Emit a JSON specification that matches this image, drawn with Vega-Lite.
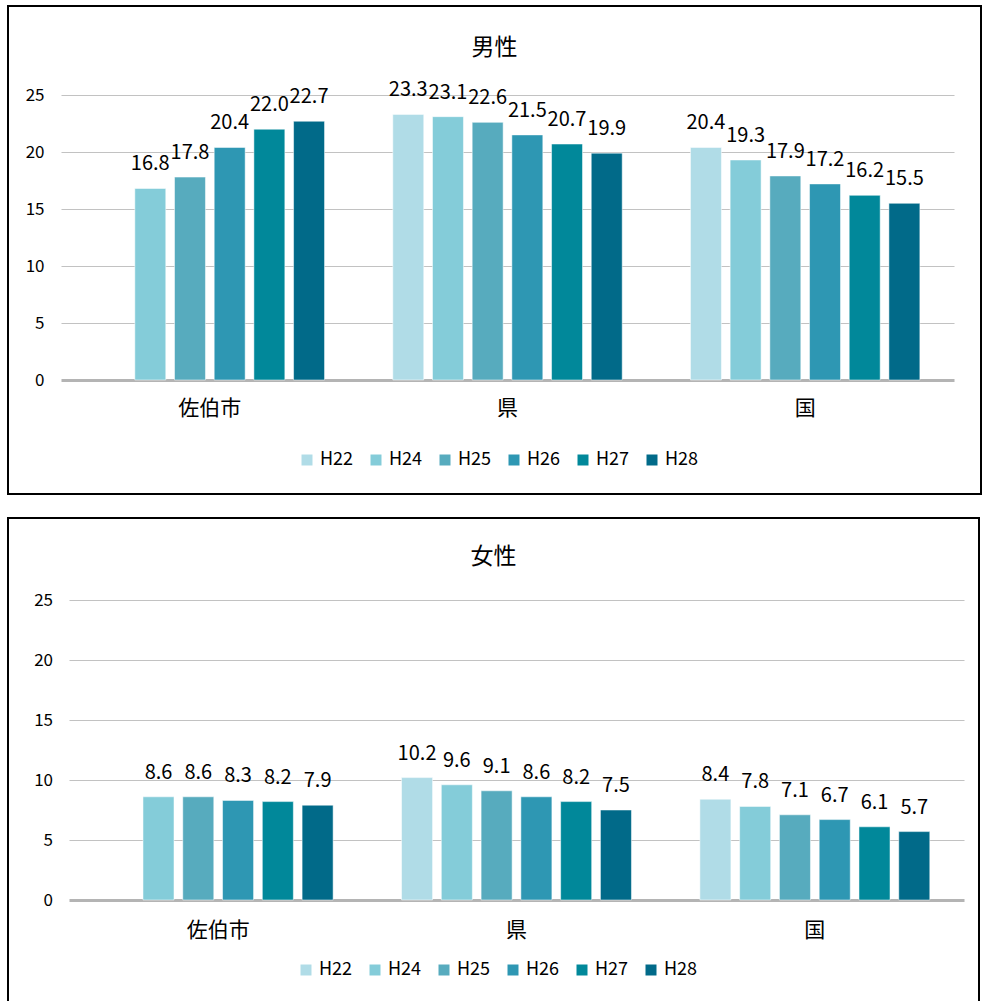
{
  "$schema": "https://vega.github.io/schema/vega-lite/v6.json",
  "background": "white",
  "padding": {"left": 7, "top": 5, "right": 0, "bottom": 0},
  "autosize": {"type": "pad"},
  "datasets": {
    "rows": [
      {"sex": "男性", "area": "佐伯市", "year": "H24", "rate": 16.8},
      {"sex": "男性", "area": "佐伯市", "year": "H25", "rate": 17.8},
      {"sex": "男性", "area": "佐伯市", "year": "H26", "rate": 20.4},
      {"sex": "男性", "area": "佐伯市", "year": "H27", "rate": 22.0},
      {"sex": "男性", "area": "佐伯市", "year": "H28", "rate": 22.7},
      {"sex": "男性", "area": "県", "year": "H22", "rate": 23.3},
      {"sex": "男性", "area": "県", "year": "H24", "rate": 23.1},
      {"sex": "男性", "area": "県", "year": "H25", "rate": 22.6},
      {"sex": "男性", "area": "県", "year": "H26", "rate": 21.5},
      {"sex": "男性", "area": "県", "year": "H27", "rate": 20.7},
      {"sex": "男性", "area": "県", "year": "H28", "rate": 19.9},
      {"sex": "男性", "area": "国", "year": "H22", "rate": 20.4},
      {"sex": "男性", "area": "国", "year": "H24", "rate": 19.3},
      {"sex": "男性", "area": "国", "year": "H25", "rate": 17.9},
      {"sex": "男性", "area": "国", "year": "H26", "rate": 17.2},
      {"sex": "男性", "area": "国", "year": "H27", "rate": 16.2},
      {"sex": "男性", "area": "国", "year": "H28", "rate": 15.5},
      {"sex": "女性", "area": "佐伯市", "year": "H24", "rate": 8.6},
      {"sex": "女性", "area": "佐伯市", "year": "H25", "rate": 8.6},
      {"sex": "女性", "area": "佐伯市", "year": "H26", "rate": 8.3},
      {"sex": "女性", "area": "佐伯市", "year": "H27", "rate": 8.2},
      {"sex": "女性", "area": "佐伯市", "year": "H28", "rate": 7.9},
      {"sex": "女性", "area": "県", "year": "H22", "rate": 10.2},
      {"sex": "女性", "area": "県", "year": "H24", "rate": 9.6},
      {"sex": "女性", "area": "県", "year": "H25", "rate": 9.1},
      {"sex": "女性", "area": "県", "year": "H26", "rate": 8.6},
      {"sex": "女性", "area": "県", "year": "H27", "rate": 8.2},
      {"sex": "女性", "area": "県", "year": "H28", "rate": 7.5},
      {"sex": "女性", "area": "国", "year": "H22", "rate": 8.4},
      {"sex": "女性", "area": "国", "year": "H24", "rate": 7.8},
      {"sex": "女性", "area": "国", "year": "H25", "rate": 7.1},
      {"sex": "女性", "area": "国", "year": "H26", "rate": 6.7},
      {"sex": "女性", "area": "国", "year": "H27", "rate": 6.1},
      {"sex": "女性", "area": "国", "year": "H28", "rate": 5.7}
    ]
  },
  "spacing": 22,
  "resolve": {
    "scale": {"color": "independent", "x": "independent", "y": "independent", "xOffset": "independent"},
    "legend": {"color": "independent"},
    "axis": {"x": "independent", "y": "independent"}
  },
  "vconcat": [
    {
      "width": 973,
      "height": 488,
      "title": {"text": "男性", "offset": -65, "baseline": "middle"},
      "data": {"name": "rows"},
      "transform": [{"filter": "datum.sex === '男性'"}],
      "encoding": {
        "x": {
          "field": "area", "type": "nominal", "sort": ["佐伯市", "県", "国"],
          "scale": {"range": [53, 946], "paddingInner": 0, "paddingOuter": 0},
          "axis": {"title": null, "orient": "bottom", "offset": -114, "domain": false, "ticks": false, "tickSize": 0,
                   "labelPadding": 28, "labelBaseline": "middle", "labelAngle": 0, "labelFontSize": 21, "grid": false}
        },
        "xOffset": {
          "field": "year", "type": "nominal",
          "scale": {"domain": ["H22", "H24", "H25", "H26", "H27", "H28"], "paddingInner": 0.22, "paddingOuter": 0.86}
        },
        "y": {
          "field": "rate", "type": "quantitative",
          "scale": {"domain": [0, 25], "range": [374, 89], "nice": false, "zero": true},
          "axis": {"title": null, "orient": "left", "offset": -36, "domain": false, "ticks": false, "tickSize": 0,
                   "labelPadding": 0, "values": [0, 5, 10, 15, 20, 25], "labelFontSize": 17,
                   "grid": true,
                   "gridColor": {"condition": {"test": "datum.value === 0", "value": "#B4B4B4"}, "value": "#C2C2C2"},
                   "gridWidth": {"condition": {"test": "datum.value === 0", "value": 3}, "value": 1.2}}
        }
      },
      "layer": [
        {
          "mark": {"type": "bar", "stroke": "#ffffff", "strokeWidth": 1, "strokeOpacity": 0.5},
          "encoding": {
            "color": {
              "field": "year", "type": "nominal",
              "scale": {"domain": ["H22", "H24", "H25", "H26", "H27", "H28"],
                        "range": ["#B0DCE7", "#84CCD9", "#57ABBE", "#2E97B3", "#01889A", "#016A89"]},
              "legend": {"title": null, "orient": "none", "direction": "horizontal", "legendX": 290, "legendY": 445}
            }
          }
        },
        {
          "mark": {"type": "text", "baseline": "alphabetic", "align": "center", "dy": -18, "fontSize": 20, "color": "#000000"},
          "encoding": {"text": {"field": "rate", "type": "quantitative", "format": ".1f"}}
        }
      ]
    },
    {
      "width": 971,
      "height": 486,
      "title": {"text": "女性", "offset": -62, "baseline": "middle"},
      "data": {"name": "rows"},
      "transform": [{"filter": "datum.sex === '女性'"}],
      "encoding": {
        "x": {
          "field": "area", "type": "nominal", "sort": ["佐伯市", "県", "国"],
          "scale": {"range": [61, 956], "paddingInner": 0, "paddingOuter": 0},
          "axis": {"title": null, "orient": "bottom", "offset": -104, "domain": false, "ticks": false, "tickSize": 0,
                   "labelPadding": 30, "labelBaseline": "middle", "labelAngle": 0, "labelFontSize": 21, "grid": false}
        },
        "xOffset": {
          "field": "year", "type": "nominal",
          "scale": {"domain": ["H22", "H24", "H25", "H26", "H27", "H28"], "paddingInner": 0.22, "paddingOuter": 0.86}
        },
        "y": {
          "field": "rate", "type": "quantitative",
          "scale": {"domain": [0, 25], "range": [382, 82], "nice": false, "zero": true},
          "axis": {"title": null, "orient": "left", "offset": -44.5, "domain": false, "ticks": false, "tickSize": 0,
                   "labelPadding": 0, "values": [0, 5, 10, 15, 20, 25], "labelFontSize": 17,
                   "grid": true,
                   "gridColor": {"condition": {"test": "datum.value === 0", "value": "#B4B4B4"}, "value": "#C2C2C2"},
                   "gridWidth": {"condition": {"test": "datum.value === 0", "value": 3}, "value": 1.2}}
        }
      },
      "layer": [
        {
          "mark": {"type": "bar", "stroke": "#ffffff", "strokeWidth": 1, "strokeOpacity": 0.5},
          "encoding": {
            "color": {
              "field": "year", "type": "nominal",
              "scale": {"domain": ["H22", "H24", "H25", "H26", "H27", "H28"],
                        "range": ["#B0DCE7", "#84CCD9", "#57ABBE", "#2E97B3", "#01889A", "#016A89"]},
              "legend": {"title": null, "orient": "none", "direction": "horizontal", "legendX": 289, "legendY": 443}
            }
          }
        },
        {
          "mark": {"type": "text", "baseline": "alphabetic", "align": "center", "dy": -18, "fontSize": 20, "color": "#000000"},
          "encoding": {"text": {"field": "rate", "type": "quantitative", "format": ".1f"}}
        }
      ]
    }
  ],
  "config": {
    "font": "Noto Sans CJK JP",
    "view": {"stroke": "#000000", "strokeWidth": 2, "fill": "white"},
    "title": {"fontSize": 23, "fontWeight": "normal", "color": "#000000", "anchor": "middle", "frame": "group"},
    "axis": {"labelColor": "#000000", "labelFont": "Noto Sans CJK JP"},
    "legend": {"labelFontSize": 18, "labelColor": "#000000", "symbolType": "square", "symbolSize": 121,
               "symbolStrokeWidth": 0, "labelOffset": 4, "columnPadding": 13, "padding": 0}
  }
}
